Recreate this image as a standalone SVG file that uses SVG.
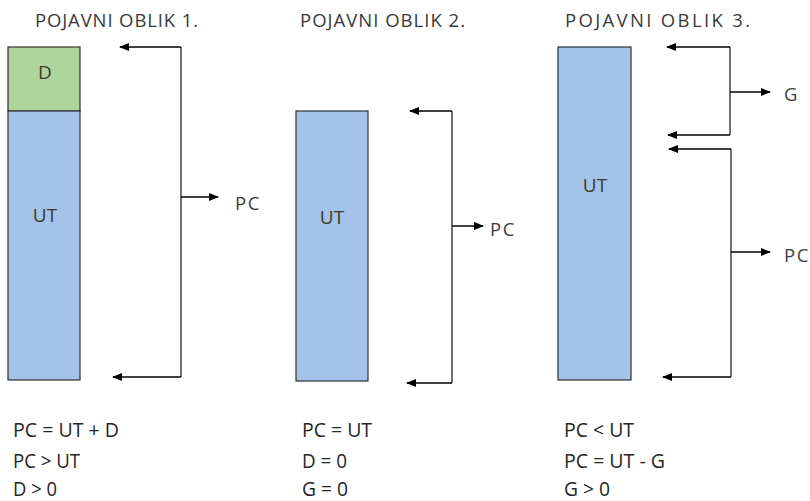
<svg xmlns="http://www.w3.org/2000/svg" width="810" height="501" viewBox="0 0 810 501">
<style>
.bar{stroke:#2f2f2f;stroke-width:1.2}
.ut{fill:#a3c4e8}
.d{fill:#b0d59a}
.ttl{font-family:"Open Sans","Liberation Sans",sans-serif;font-size:18.5px;fill:#3a3a3a}
.in{font-family:"Open Sans","Liberation Sans",sans-serif;font-size:19px;fill:#3a3a2a;text-anchor:middle}
.lbl{font-family:"Open Sans","Liberation Sans",sans-serif;font-size:18.5px;fill:#404040;letter-spacing:1.5px}
.eq{font-family:"Open Sans","Liberation Sans",sans-serif;font-size:20px;fill:#262626}
.ln{fill:none;stroke:#404040;stroke-width:1.5}
.ar{fill:none;stroke:#000;stroke-width:1.5;marker-end:url(#ah)}
</style>
<defs>
<marker id="ah" markerWidth="10" markerHeight="10" refX="9" refY="4" orient="auto" markerUnits="userSpaceOnUse">
<path d="M0,0 L10,4 L0,8 Z" fill="#000"/>
</marker>
</defs>
<rect width="810" height="501" fill="#fff"/>

<g id="oblik1">
<text class="ttl" x="35" y="27" textLength="163">POJAVNI OBLIK 1.</text>
<rect class="bar d" x="8" y="47" width="72" height="64"/>
<text class="in" x="45" y="79">D</text>
<rect class="bar ut" x="8" y="111" width="72" height="269"/>
<text class="in" x="45" y="222">UT</text>
</g>

<g id="oblik2">
<text class="ttl" x="300" y="27" textLength="165">POJAVNI OBLIK 2.</text>
<rect class="bar ut" x="296" y="111" width="72" height="270"/>
<text class="in" x="332" y="224">UT</text>
</g>

<g id="oblik3">
<text class="ttl" x="565" y="27" textLength="185">POJAVNI OBLIK 3.</text>
<rect class="bar ut" x="558" y="47" width="73" height="333"/>
<text class="in" x="595" y="192">UT</text>
</g>

<g id="connectors">
<path class="ln" d="M181,47 V377"/>
<path class="ar" d="M181,47 H120"/>
<path class="ar" d="M181,377 H113"/>
<path class="ar" d="M181,197 H218"/>

<path class="ln" d="M452,111 V383"/>
<path class="ar" d="M452,111 H410"/>
<path class="ar" d="M452,383 H407"/>
<path class="ar" d="M452,226 H483"/>

<path class="ln" d="M730,47 V135"/>
<path class="ar" d="M730,47 H667"/>
<path class="ar" d="M730,135 H668"/>
<path class="ar" d="M730,92 H770"/>

<path class="ln" d="M731,149 V377"/>
<path class="ar" d="M731,149 H669"/>
<path class="ar" d="M731,377 H663"/>
<path class="ar" d="M731,252 H770"/>
</g>

<g id="labels">
<text class="lbl" x="235" y="210">PC</text>
<text class="lbl" x="490" y="236">PC</text>
<text class="lbl" x="784" y="101">G</text>
<text class="lbl" x="784" y="262">PC</text>
</g>

<g id="conditions">
<text class="eq" x="13" y="437" textLength="106" lengthAdjust="spacingAndGlyphs">PC = UT + D</text>
<text class="eq" x="13" y="468" textLength="67" lengthAdjust="spacingAndGlyphs">PC &gt; UT</text>
<text class="eq" x="13" y="496" textLength="44" lengthAdjust="spacingAndGlyphs">D &gt; 0</text>
<text class="eq" x="302" y="437" textLength="70" lengthAdjust="spacingAndGlyphs">PC = UT</text>
<text class="eq" x="302" y="468" textLength="45" lengthAdjust="spacingAndGlyphs">D = 0</text>
<text class="eq" x="302" y="496" textLength="46" lengthAdjust="spacingAndGlyphs">G = 0</text>
<text class="eq" x="564" y="437" textLength="70" lengthAdjust="spacingAndGlyphs">PC &lt; UT</text>
<text class="eq" x="564" y="468" textLength="101" lengthAdjust="spacingAndGlyphs">PC = UT - G</text>
<text class="eq" x="564" y="496" textLength="46" lengthAdjust="spacingAndGlyphs">G &gt; 0</text>
</g>
</svg>
